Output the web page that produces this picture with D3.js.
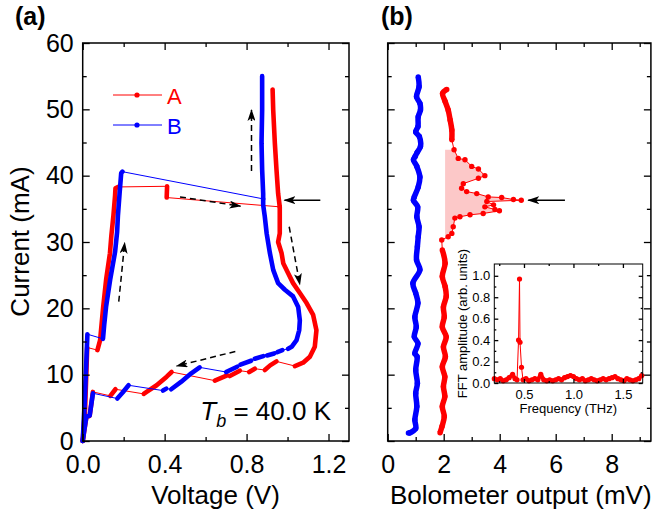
<!DOCTYPE html>
<html>
<head>
<meta charset="utf-8">
<script src="https://cdn.jsdelivr.net/npm/d3@7"></script>
<style>
  body { margin: 0; background: #fff; }
  svg { display: block; }
</style>
</head>
<body>
<svg id="chart" width="652" height="514"></svg>
<script>
// ---- data ----
var seriesNames = ["A", "B"];
var seriesColors = ["#ff0000", "#0000ff"];

// I-V branches [V, mA]; consecutive branches are joined by a thin jump line
var ivA = [
  [[0, 0], [0.012, 5], [0.022, 14.1]],
  [[0.072, 13.7], [0.085, 15.2], [0.100, 20.2], [0.115, 24.5], [0.133, 28.3], [0.140, 31.0], [0.150, 34.0], [0.158, 37.0], [0.160, 38.1], [0.172, 38.3]],
  [[0.412, 38.4], [0.410, 36.7]],
  [[0.962, 35.3], [0.954, 37.3], [0.946, 40.9], [0.938, 44.9], [0.930, 49.9], [0.927, 53.0]],
  [[0.962, 35.3], [0.962, 31.3], [0.954, 30.0], [0.971, 28.3], [0.979, 26.8], [1.003, 25.3], [1.027, 23.8], [1.060, 22.3], [1.093, 20.8], [1.125, 19.0], [1.141, 16.7], [1.133, 14.2], [1.109, 12.7], [1.076, 11.8], [1.036, 11.3]],
  [[0.946, 12.0], [0.915, 11.4], [0.889, 10.7]],
  [[0.840, 10.9], [0.813, 10.4]],
  [[0.767, 10.6], [0.718, 9.8]],
  [[0.705, 9.9], [0.645, 9.1]],
  [[0.434, 10.4], [0.410, 9.7], [0.361, 8.4], [0.312, 7.4], [0.298, 7.1]],
  [[0.160, 7.8], [0.135, 6.8]],
  [[0.050, 7.4], [0.034, 3.8], [0.018, 3.6], [0, 0]]
];
var ivB = [
  [[0, 0], [0.010, 6], [0.023, 16.1]],
  [[0.099, 15.4], [0.105, 17.5], [0.114, 20.2], [0.135, 24.5], [0.158, 28.5], [0.168, 31.5], [0.172, 34.0], [0.180, 37.3], [0.188, 40.4], [0.194, 40.6]],
  [[0.881, 36.5], [0.881, 37.3], [0.876, 40.9], [0.873, 44.9], [0.876, 49.9], [0.876, 55.0]],
  [[0.881, 36.5], [0.881, 35.6], [0.889, 33.8], [0.898, 31.3], [0.914, 28.3], [0.930, 25.8], [0.954, 23.8], [0.987, 22.8], [1.027, 21.8], [1.052, 20.2], [1.060, 18.2], [1.057, 16.7], [1.044, 15.2], [1.020, 14.2], [1.003, 13.9]],
  [[0.975, 13.7], [0.950, 13.4]],
  [[0.935, 13.2], [0.900, 12.9]],
  [[0.882, 12.8], [0.840, 12.4]],
  [[0.822, 12.1], [0.770, 11.5]],
  [[0.754, 11.2], [0.700, 10.4]],
  [[0.571, 11.1], [0.530, 10.2], [0.480, 8.9], [0.432, 7.8]],
  [[0.408, 7.9], [0.392, 7.6]],
  [[0.224, 8.4], [0.195, 7.3], [0.169, 6.4]],
  [[0.050, 7.2], [0.034, 3.8], [0.018, 3.7], [0, 0]]
];

// arrows in panel (a): [V1, I1, V2, I2, dashed]
var arrowsA = [
  [0.824, 40.7, 0.824, 49.9, true],
  [0.475, 36.8, 0.770, 35.4, true],
  [1.160, 36.3, 0.985, 36.3, false],
  [1.008, 32.3, 1.060, 23.6, true],
  [0.176, 21.0, 0.205, 29.9, true],
  [0.745, 13.5, 0.459, 11.3, true]
];

// bolometer output [mV, mA]
var bolB = [
  [1.09, 54.9], [1.12, 53.4], [1.03, 51.9], [1.15, 50.9], [1.17, 49.9], [1.09, 48.9], [1.08, 47.4], [1.00, 46.6],
  [1.13, 45.9], [1.17, 44.4], [1.05, 43.5], [0.98, 42.9], [0.92, 42.4], [1.04, 41.4], [1.15, 39.8], [1.09, 38.3],
  [0.95, 36.8], [0.92, 36.3], [1.07, 35.3], [1.04, 33.8], [1.12, 32.3], [1.09, 30.8], [1.06, 29.3], [1.03, 27.3],
  [1.15, 25.8], [0.90, 23.8], [1.00, 22.3], [1.08, 20.8], [0.97, 18.7], [1.02, 17.2], [0.95, 15.7], [1.08, 14.7],
  [0.97, 13.2], [1.05, 12.7], [1.00, 10.7], [1.06, 8.7], [1.00, 7.2], [1.04, 5.2], [0.97, 3.2], [1.00, 1.9],
  [0.80, 1.25], [0.74, 1.2]
];
var bolA = [
  [2.11, 53.0], [1.96, 52.4], [2.05, 51.2], [2.16, 49.9], [2.23, 48.4], [2.29, 46.9], [2.29, 45.4], [2.37, 43.9],
  [2.52, 42.6], [2.76, 42.4], [3.00, 41.4], [3.24, 41.0], [3.47, 40.0], [3.24, 39.6], [2.70, 38.8], [2.64, 38.1],
  [2.82, 37.6], [3.18, 37.3], [3.59, 36.8], [4.07, 36.7], [4.49, 36.4], [4.77, 36.3], [3.54, 36.1], [3.78, 35.6],
  [3.47, 35.3], [3.83, 34.9], [3.99, 34.7], [3.41, 34.3], [2.94, 34.1], [2.58, 33.8], [2.40, 33.6], [2.34, 32.3],
  [2.29, 31.3], [2.16, 30.8], [1.93, 30.3], [1.95, 28.8], [2.05, 26.8], [1.95, 24.8], [2.05, 23.3], [2.09, 21.8],
  [1.99, 20.2], [2.02, 18.7], [1.95, 17.2], [2.09, 15.7], [1.99, 14.2], [2.06, 12.7], [1.95, 11.2], [2.04, 9.7],
  [1.99, 8.2], [2.04, 6.7], [1.95, 5.2], [2.02, 3.7], [1.94, 2.2], [1.87, 1.25]
];
var peakBase = 2.05;      // mV, left edge of shaded emission region
var peakBand = [30.3, 43.9];
var arrowB = [6.33, 36.3, 5.02, 36.3];

// inset FFT [THz, arb. units]
var fft = [
  [0.20, 0.04], [0.23, 0.03], [0.26, 0.04], [0.29, 0.02], [0.32, 0.03], [0.35, 0.05], [0.385, 0.08], [0.41, 0.04],
  [0.43, 0.03], [0.445, 0.40], [0.455, 0.97], [0.46, 0.38], [0.475, 0.147], [0.49, 0.03], [0.52, 0.04], [0.55, 0.02],
  [0.58, 0.03], [0.61, 0.04], [0.64, 0.03], [0.67, 0.08], [0.70, 0.03], [0.73, 0.02], [0.76, 0.03], [0.79, 0.02],
  [0.82, 0.03], [0.85, 0.04], [0.88, 0.03], [0.91, 0.05], [0.94, 0.06], [0.97, 0.07], [1.00, 0.06], [1.03, 0.04],
  [1.06, 0.03], [1.09, 0.04], [1.12, 0.02], [1.15, 0.03], [1.18, 0.04], [1.21, 0.03], [1.24, 0.02], [1.27, 0.03],
  [1.30, 0.04], [1.33, 0.03], [1.36, 0.04], [1.39, 0.05], [1.42, 0.06], [1.45, 0.04], [1.48, 0.03], [1.51, 0.02],
  [1.54, 0.04], [1.57, 0.03], [1.60, 0.02], [1.63, 0.03], [1.66, 0.04], [1.69, 0.07]
];

var xTicksA = [0, 0.4, 0.8, 1.2], xMinorA = [0.2, 0.6, 1.0];
var yTicks = [0, 10, 20, 30, 40, 50, 60], yMinor = [5, 15, 25, 35, 45, 55];
var xTicksB = [0, 2, 4, 6, 8], xMinorB = [1, 3, 5, 7, 9];
var xTicksI = [0.5, 1.0, 1.5], xMinorI = [0.25, 0.75, 1.25];
var yTicksI = [0, 0.2, 0.4, 0.6, 0.8, 1.0], yMinorI = [0.1, 0.3, 0.5, 0.7, 0.9];

// ---- drawing ----
var FONT = "Arial, 'Liberation Sans', sans-serif";
var svg = d3.select("#chart");
svg.append("rect").attr("width", 652).attr("height", 514).attr("fill", "#fff");

var defs = svg.append("defs");
defs.append("marker").attr("id", "head")
  .attr("viewBox", "0 0 12 8").attr("refX", 11).attr("refY", 4)
  .attr("markerWidth", 12).attr("markerHeight", 8)
  .attr("markerUnits", "userSpaceOnUse").attr("orient", "auto")
  .append("path").attr("d", "M0,0 L12,4 L0,8 L3,4 Z").attr("fill", "#000");

var xa = d3.scaleLinear().domain([0, 1.3]).range([82.7, 349]);
var ya = d3.scaleLinear().domain([0, 60]).range([441, 43]);
var xb = d3.scaleLinear().domain([0, 9.4]).range([387.7, 650.9]);
var xi = d3.scaleLinear().domain([0.2, 1.7]).range([494.3, 642.7]);
var yi = d3.scaleLinear().domain([0, 1.11]).range([383, 264]);

function tickSet(g, axis, scale, vals, size, fmt, pad, fs) {
  g.call(axis(scale).tickValues(vals).tickSize(-size).tickPadding(pad).tickFormat(fmt));
  g.select(".domain").remove();
  g.attr("font-family", FONT).attr("font-size", fs);
  g.selectAll("line").attr("stroke", "#000").attr("stroke-width", 1.3);
  g.selectAll("text").attr("fill", "#000");
}

// full frame with mirrored ticks
function axes(xs, ys, o) {
  var x0 = xs.range()[0], x1 = xs.range()[1], y0 = ys.range()[0], y1 = ys.range()[1];
  var g = svg.append("g");
  var none = function () { return ""; };
  tickSet(g.append("g").attr("transform", "translate(0," + y0 + ")"), d3.axisBottom, xs, o.xMaj, o.big, o.xFmt, o.padX, o.fs);
  tickSet(g.append("g").attr("transform", "translate(0," + y0 + ")"), d3.axisBottom, xs, o.xMin, o.small, none, 0, o.fs);
  tickSet(g.append("g").attr("transform", "translate(0," + y1 + ")"), d3.axisTop, xs, o.xMaj, o.big, none, 0, o.fs);
  tickSet(g.append("g").attr("transform", "translate(0," + y1 + ")"), d3.axisTop, xs, o.xMin, o.small, none, 0, o.fs);
  tickSet(g.append("g").attr("transform", "translate(" + x0 + ",0)"), d3.axisLeft, ys, o.yMaj, o.big, o.yFmt, o.padY, o.fs);
  tickSet(g.append("g").attr("transform", "translate(" + x0 + ",0)"), d3.axisLeft, ys, o.yMin, o.small, none, 0, o.fs);
  tickSet(g.append("g").attr("transform", "translate(" + x1 + ",0)"), d3.axisRight, ys, o.yMaj, o.big, none, 0, o.fs);
  tickSet(g.append("g").attr("transform", "translate(" + x1 + ",0)"), d3.axisRight, ys, o.yMin, o.small, none, 0, o.fs);
  g.append("rect").attr("x", x0).attr("y", y1).attr("width", x1 - x0).attr("height", y0 - y1)
    .attr("fill", "none").attr("stroke", "#000").attr("stroke-width", o.frameW);
}

function arrow(x1, y1, x2, y2, dashed) {
  svg.append("line").attr("x1", x1).attr("y1", y1).attr("x2", x2).attr("y2", y2)
    .attr("stroke", "#000").attr("stroke-width", 1.5)
    .attr("stroke-dasharray", dashed ? "6,4" : null)
    .attr("marker-end", "url(#head)");
}

// panel (a): I-V curves
var lineA = d3.line().x(function (d) { return xa(d[0]); }).y(function (d) { return ya(d[1]); });
[ivA, ivB].forEach(function (branches, k) {
  var g = svg.append("g");
  var c = seriesColors[k];
  for (var i = 1; i < branches.length; i++) {
    var p = branches[i - 1][branches[i - 1].length - 1], q = branches[i][0];
    g.append("path").attr("d", lineA([p, q])).attr("stroke", c).attr("stroke-width", 1).attr("fill", "none");
  }
  branches.forEach(function (b) {
    g.append("path").attr("d", lineA(b)).attr("stroke", c).attr("stroke-width", 4.6)
      .attr("stroke-linecap", "round").attr("stroke-linejoin", "round").attr("fill", "none");
  });
});

arrowsA.forEach(function (a) { arrow(xa(a[0]), ya(a[1]), xa(a[2]), ya(a[3]), a[4]); });

axes(xa, ya, {
  xMaj: xTicksA, xMin: xMinorA, yMaj: yTicks, yMin: yMinor, big: 7, small: 4,
  xFmt: d3.format(".1f"), yFmt: d3.format("d"), padX: 14, padY: 9, fs: 25, frameW: 1.5
});

// legend
seriesNames.forEach(function (n, i) {
  var yy = 95 + i * 30;
  svg.append("line").attr("x1", 113).attr("x2", 162).attr("y1", yy).attr("y2", yy)
    .attr("stroke", seriesColors[i]).attr("stroke-width", 1);
  svg.append("circle").attr("cx", 137).attr("cy", yy).attr("r", 2.6).attr("fill", seriesColors[i]);
  svg.append("text").attr("x", 167).attr("y", yy + 8.5).attr("font-family", FONT).attr("font-size", 22)
    .attr("fill", seriesColors[i]).text(n);
});

var tb = svg.append("text").attr("x", 331).attr("y", 420).attr("text-anchor", "end")
  .attr("font-family", FONT).attr("font-size", 26).attr("fill", "#000");
tb.append("tspan").attr("font-style", "italic").text("T");
tb.append("tspan").attr("font-style", "italic").attr("font-size", 18).attr("dy", 7).text("b");
tb.append("tspan").attr("dy", -7).text(" = 40.0 K");

// panel (b): bolometer output
var bx = function (d) { return xb(d[0]); }, by = function (d) { return ya(d[1]); };
var inBand = function (d) { return d[1] >= peakBand[0] && d[1] <= peakBand[1]; };
svg.append("path")
  .attr("d", d3.area().y(by).x0(xb(peakBase)).x1(bx)(bolA.filter(inBand)))
  .attr("fill", "#fcc8c8").attr("stroke", "none");

[bolA, bolB].forEach(function (pts, k) {
  var c = seriesColors[k];
  var g = svg.append("g");
  // only series A has the sparse emission peak; elsewhere points are dense
  var dense = k === 0 ? function (d) { return !inBand(d); } : function () { return true; };
  g.append("path").attr("d", d3.line().x(bx).y(by)(pts))
    .attr("stroke", c).attr("stroke-width", 1).attr("fill", "none");
  g.append("path").attr("d", d3.line().x(bx).y(by).defined(dense).curve(d3.curveCatmullRom)(pts))
    .attr("stroke", c).attr("stroke-width", 5.5).attr("stroke-linejoin", "round").attr("fill", "none");
  g.selectAll("circle").data(pts).enter().append("circle")
    .attr("cx", bx).attr("cy", by).attr("r", 2.7).attr("fill", c);
});

arrow(xb(arrowB[0]), ya(arrowB[1]), xb(arrowB[2]), ya(arrowB[3]), false);

axes(xb, ya, {
  xMaj: xTicksB, xMin: xMinorB, yMaj: yTicks, yMin: yMinor, big: 7, small: 4,
  xFmt: d3.format("d"), yFmt: function () { return ""; }, padX: 14, padY: 9, fs: 25, frameW: 1.5
});

// inset FFT
var lineI = d3.line().x(function (d) { return xi(d[0]); }).y(function (d) { return yi(d[1]); });
var gi = svg.append("g");
gi.append("path").attr("d", lineI(fft)).attr("stroke", "#ff0000").attr("stroke-width", 1).attr("fill", "none");
gi.append("path").attr("d", lineI.defined(function (d) { return d[1] < 0.1; })(fft))
  .attr("stroke", "#ff0000").attr("stroke-width", 4).attr("stroke-linejoin", "round").attr("fill", "none");
gi.selectAll("circle").data(fft).enter().append("circle")
  .attr("cx", function (d) { return xi(d[0]); }).attr("cy", function (d) { return yi(d[1]); })
  .attr("r", 2.6).attr("fill", "#ff0000");

axes(xi, yi, {
  xMaj: xTicksI, xMin: xMinorI, yMaj: yTicksI, yMin: yMinorI, big: 4, small: 2,
  xFmt: d3.format(".1f"), yFmt: d3.format(".1f"), padX: 7, padY: 4, fs: 13, frameW: 1
});

svg.append("text").attr("x", 568.3).attr("y", 413).attr("text-anchor", "middle")
  .attr("font-family", FONT).attr("font-size", 13).text("Frequency (THz)");
svg.append("text").attr("transform", "translate(466.7,323.5) rotate(-90)").attr("text-anchor", "middle")
  .attr("font-family", FONT).attr("font-size", 13).text("FFT amplitude (arb. units)");

// axis titles and panel labels
svg.append("text").attr("x", 215.5).attr("y", 503.5).attr("text-anchor", "middle")
  .attr("font-family", FONT).attr("font-size", 26).text("Voltage (V)");
svg.append("text").attr("x", 520.8).attr("y", 503.5).attr("text-anchor", "middle")
  .attr("font-family", FONT).attr("font-size", 26).text("Bolometer output (mV)");
svg.append("text").attr("transform", "translate(29.3,241.5) rotate(-90)").attr("text-anchor", "middle")
  .attr("font-family", FONT).attr("font-size", 26).text("Current (mA)");
svg.append("text").attr("x", 15).attr("y", 25).attr("font-family", FONT).attr("font-size", 25)
  .attr("font-weight", "bold").text("(a)");
svg.append("text").attr("x", 381).attr("y", 25).attr("font-family", FONT).attr("font-size", 25)
  .attr("font-weight", "bold").text("(b)");
</script>
</body>
</html>
